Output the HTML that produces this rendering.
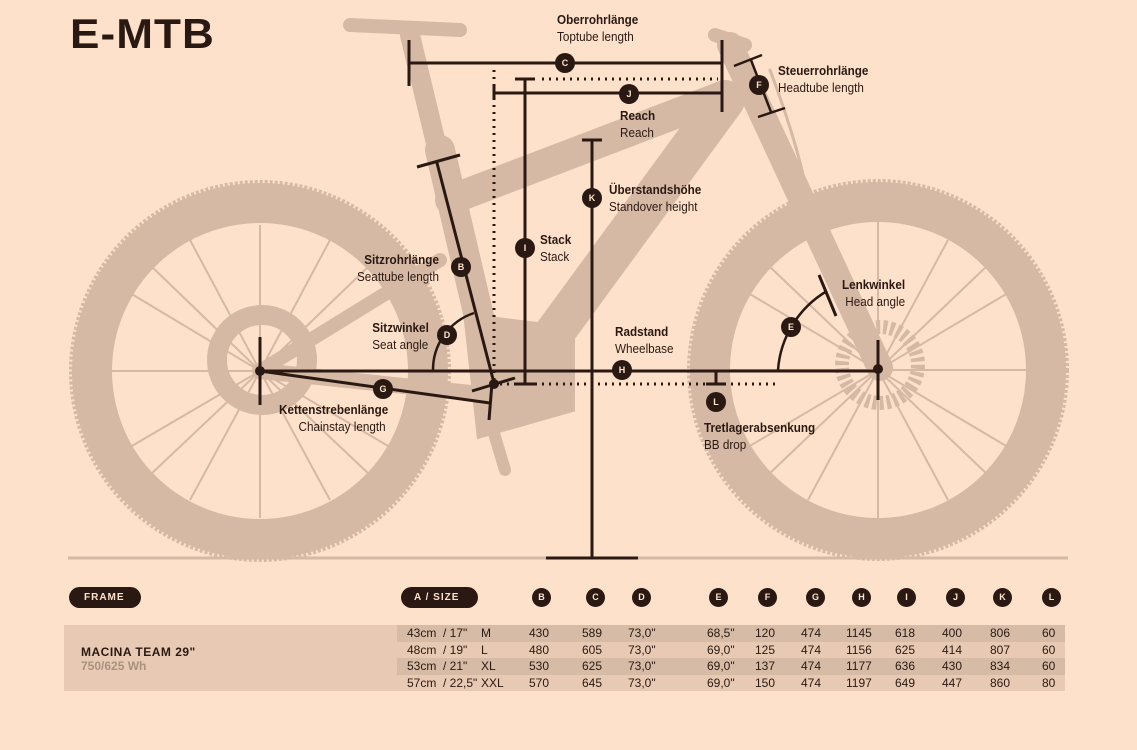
<!DOCTYPE html>
<html><head><meta charset="utf-8"><style>
body{margin:0;background:#fde1cb;}
.w{position:relative;width:1137px;height:750px;overflow:hidden;background:#fde1cb;font-family:"Liberation Sans Narrow","Liberation Sans",sans-serif;color:#2a1912;}
svg{position:absolute;left:0;top:0}
.t{position:absolute;font-size:13px;line-height:17px;white-space:nowrap;transform:scaleX(.9);transform-origin:left top}
.t b{font-weight:bold}
.pill{position:absolute;background:#2a1912;color:#fde1cb;border-radius:11px;font:bold 10px "Liberation Sans",sans-serif;letter-spacing:1px;height:21px;line-height:21px}
.hc{position:absolute;width:19px;height:19px;border-radius:50%;background:#2a1912;color:#fde1cb;font:bold 9px "Liberation Sans",sans-serif;text-align:center;line-height:19px;top:588px}
.row{position:absolute;left:397px;width:668px;height:16.5px;font-size:12px;line-height:16.5px}
.row span{position:absolute}
</style></head><body><div class="w">
<svg width="1137" height="750">
<g fill="none" stroke="#d6b9a5">
<circle cx="260" cy="371" r="168" stroke-width="40"/>
<circle cx="878" cy="370" r="168" stroke-width="40"/>
<circle cx="260" cy="371" r="189" stroke-width="4" stroke-dasharray="3 2"/>
<circle cx="878" cy="370" r="189" stroke-width="4" stroke-dasharray="3 2"/>
<g stroke-width="2">
<path d="M260 371 L260 225 M260 371 L330 240 M260 371 L395 290 M260 371 L408 371 M260 371 L395 450 M260 371 L330 500 M260 371 L260 518 M260 371 L190 500 M260 371 L125 450 M260 371 L112 371 M260 371 L125 290 M260 371 L190 240 M260 371 L370 265 M260 371 L150 265 M260 371 L150 475 M260 371 L370 475"/>
<path d="M878 370 L878 222 M878 370 L948 240 M878 370 L1013 290 M878 370 L1026 370 M878 370 L1013 450 M878 370 L948 500 M878 370 L878 518 M878 370 L808 500 M878 370 L743 450 M878 370 L730 370 M878 370 L743 290 M878 370 L808 240 M878 370 L988 265 M878 370 L768 265 M878 370 L768 475 M878 370 L988 475"/>
</g>
<circle cx="262" cy="360" r="45" stroke-width="20"/>
<circle cx="880" cy="365" r="38" stroke-width="14" stroke-dasharray="4 3"/>
</g>
<g stroke="#d6b9a5" stroke-linecap="round" fill="none">
<path d="M350 25 L460 30" stroke-width="14"/>
<path d="M410 35 L440 160" stroke-width="20"/>
<path d="M440 150 L495 385" stroke-width="30"/>
<path d="M450 200 L725 95" stroke-width="30"/>
<path d="M725 100 L520 380" stroke-width="40"/>
<path d="M730 45 L880 368" stroke-width="26"/>
<path d="M715 35 L745 45" stroke-width="14"/>
<path d="M260 371 L490 395" stroke-width="16"/>
<path d="M260 371 L440 260" stroke-width="14"/>
<path d="M480 330 L560 340 L560 400 L490 420 Z" stroke-width="30" fill="#d6b9a5"/>
<path d="M490 420 L505 470" stroke-width="12"/>
<path d="M770 70 Q800 150 808 200" stroke-width="3"/>
</g>
<line x1="68" y1="558" x2="1068" y2="558" stroke="#d6b9a5" stroke-width="3"/>
<g stroke="#2a1912" stroke-width="3" fill="none">
<path d="M409 40 V86 M409 63 H722 M722 40 V112 M494 84 V100 M494 93 H722"/>
<path d="M515 79 H535 M525 79 V384 M515 384 H535"/>
<path d="M582 140 H602 M592 140 V558 M546 558 H638"/>
<path d="M258 371 H878 M260 337 V405 M878 340 V400 M716 371 V384 M706 384 H726"/>
<path d="M437 163 L494 383 M417 167 L460 155"/>
<path d="M260 371 L490 403 M472 391 L515 378 M492 383 L489 420"/>
<path d="M433 371 A60 60 0 0 1 474 313" stroke-width="2.5"/>
<path d="M778 370 A100 100 0 0 1 827 291" stroke-width="2.5"/>
<path d="M819 275 L836 316"/>
<path d="M734 66 L762 55 M751 60 L771 112 M758 117 L785 108" stroke-width="2.5"/>
</g>
<g stroke="#2a1912" stroke-width="3" stroke-dasharray="2 5" fill="none">
<path d="M542 79 H718"/><path d="M494 70 V383"/><path d="M500 384 H775"/>
</g>
<g fill="#2a1912"><circle cx="260" cy="371" r="5"/><circle cx="878" cy="369" r="5"/><circle cx="494" cy="384" r="5"/></g>
<g fill="#2a1912">
<circle cx="565" cy="63" r="10"/><circle cx="629" cy="94" r="10"/><circle cx="759" cy="85" r="10"/><circle cx="592" cy="198" r="10"/><circle cx="525" cy="248" r="10"/><circle cx="461" cy="267" r="10"/><circle cx="447" cy="335" r="10"/><circle cx="791" cy="327" r="10"/><circle cx="622" cy="370" r="10"/><circle cx="383" cy="389" r="10"/><circle cx="716" cy="402" r="10"/>
</g>
<g fill="#fde1cb" font-family="Liberation Sans" font-weight="bold" font-size="9" text-anchor="middle">
<text x="565" y="66">C</text><text x="629" y="97">J</text><text x="759" y="88">F</text><text x="592" y="201">K</text><text x="525" y="251">I</text><text x="461" y="270">B</text><text x="447" y="338">D</text><text x="791" y="330">E</text><text x="622" y="373">H</text><text x="383" y="392">G</text><text x="716" y="405">L</text>
</g>
</svg>
<div style="position:absolute;left:70px;top:10px;font:bold 42px 'Liberation Sans',sans-serif;color:#2a1912;letter-spacing:1px;transform:scaleX(1.05);transform-origin:left">E-MTB</div>
<div class="t" style="left:557px;top:11px"><b>Oberrohrlänge</b><br>Toptube length</div>
<div class="t" style="left:778px;top:62px"><b>Steuerrohrlänge</b><br>Headtube length</div>
<div class="t" style="left:620px;top:107px"><b>Reach</b><br>Reach</div>
<div class="t" style="left:609px;top:181px"><b>Überstandshöhe</b><br>Standover height</div>
<div class="t" style="left:540px;top:231px"><b>Stack</b><br>Stack</div>
<div class="t" style="left:357px;top:251px;text-align:right"><b>&nbsp;Sitzrohrlänge</b><br>Seattube length</div>
<div class="t" style="left:369px;top:319px"><b>&nbsp;Sitzwinkel</b><br>&nbsp;Seat angle</div>
<div class="t" style="left:615px;top:323px"><b>Radstand</b><br>Wheelbase</div>
<div class="t" style="left:842px;top:276px"><b>Lenkwinkel</b><br>&nbsp;Head angle</div>
<div class="t" style="left:279px;top:401px"><b>Kettenstrebenlänge</b><br>&nbsp;&nbsp;&nbsp;&nbsp;&nbsp;&nbsp;Chainstay length</div>
<div class="t" style="left:704px;top:419px"><b>Tretlagerabsenkung</b><br>BB drop</div>

<div class="pill" style="left:69px;top:587px;width:72px;padding-left:0;text-indent:15px">FRAME</div>
<div class="pill" style="left:401px;top:587px;width:77px;text-indent:13px">A / SIZE</div>
<div class="hc" style="left:532px">B</div><div class="hc" style="left:586px">C</div><div class="hc" style="left:632px">D</div>
<div class="hc" style="left:709px">E</div><div class="hc" style="left:758px">F</div><div class="hc" style="left:806px">G</div><div class="hc" style="left:852px">H</div><div class="hc" style="left:897px">I</div><div class="hc" style="left:946px">J</div><div class="hc" style="left:993px">K</div><div class="hc" style="left:1042px">L</div>
<div style="position:absolute;left:64px;top:625px;width:333px;height:66px;background:#e8cab4"></div>
<div style="position:absolute;left:81px;top:645px;font:bold 12px 'Liberation Sans',sans-serif;letter-spacing:.5px">MACINA TEAM 29"</div>
<div style="position:absolute;left:81px;top:659px;font:bold 12px 'Liberation Sans',sans-serif;color:#a8917f">750/625 Wh</div>
<div class="row" style="top:625px;background:#d6bca7"><span style="left:10px">43cm &nbsp;/ 17"</span><span style="left:84px">M</span><span style="left:132px">430</span><span style="left:185px">589</span><span style="left:231px">73,0"</span><span style="left:310px">68,5"</span><span style="left:358px">120</span><span style="left:404px">474</span><span style="left:449px">1145</span><span style="left:498px">618</span><span style="left:545px">400</span><span style="left:593px">806</span><span style="left:645px">60</span></div>
<div class="row" style="top:641.5px;background:#e8cab4"><span style="left:10px">48cm &nbsp;/ 19"</span><span style="left:84px">L</span><span style="left:132px">480</span><span style="left:185px">605</span><span style="left:231px">73,0"</span><span style="left:310px">69,0"</span><span style="left:358px">125</span><span style="left:404px">474</span><span style="left:449px">1156</span><span style="left:498px">625</span><span style="left:545px">414</span><span style="left:593px">807</span><span style="left:645px">60</span></div>
<div class="row" style="top:658px;background:#d6bca7"><span style="left:10px">53cm &nbsp;/ 21"</span><span style="left:84px">XL</span><span style="left:132px">530</span><span style="left:185px">625</span><span style="left:231px">73,0"</span><span style="left:310px">69,0"</span><span style="left:358px">137</span><span style="left:404px">474</span><span style="left:449px">1177</span><span style="left:498px">636</span><span style="left:545px">430</span><span style="left:593px">834</span><span style="left:645px">60</span></div>
<div class="row" style="top:674.5px;background:#e8cab4"><span style="left:10px">57cm &nbsp;/ 22,5"</span><span style="left:84px">XXL</span><span style="left:132px">570</span><span style="left:185px">645</span><span style="left:231px">73,0"</span><span style="left:310px">69,0"</span><span style="left:358px">150</span><span style="left:404px">474</span><span style="left:449px">1197</span><span style="left:498px">649</span><span style="left:545px">447</span><span style="left:593px">860</span><span style="left:645px">80</span></div>
</div></body></html>
